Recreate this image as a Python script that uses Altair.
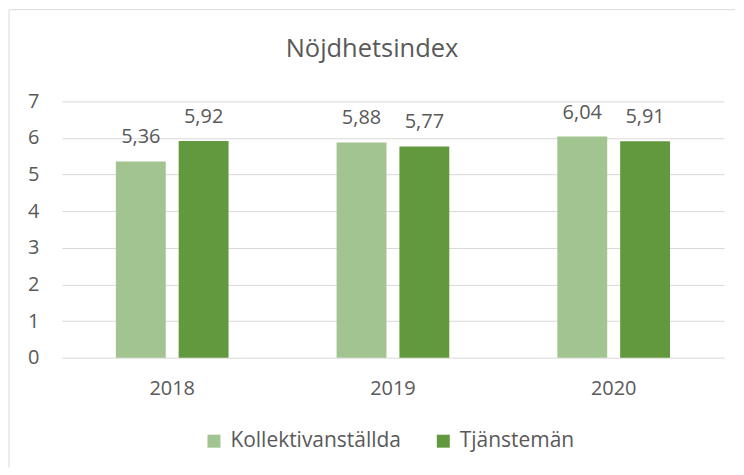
import altair as alt
import pandas as pd

years = ["2018", "2019", "2020"]
series = ["Kollektivanställda", "Tjänstemän"]
kollektiv = [5.36, 5.88, 6.04]
tjansteman = [5.92, 5.77, 5.91]
colors = ["#A1C490", "#62993E"]
title_text = "Nöjdhetsindex"

rows = []
for i, y in enumerate(years):
    for s, vals in zip(series, [kollektiv, tjansteman]):
        rows.append({"year": y, "series": s, "value": vals[i],
                     "label": f"{vals[i]:.2f}".replace(".", ",")})
df = pd.DataFrame(rows)

FONT = "Open Sans"
TXT = "#595959"
GRID = "#D9D9D9"

x_enc = alt.X("year:N", title=None, sort=years,
              scale=alt.Scale(paddingInner=0.4895, paddingOuter=0.2447),
              axis=alt.Axis(labelAngle=0, labelFontSize=20, labelColor=TXT, labelFont=FONT,
                            labelPadding=21, ticks=False, domain=False))
xo_enc = alt.XOffset("series:N", sort=series,
                     scale=alt.Scale(paddingInner=0.206, paddingOuter=0))
y_enc = alt.Y("value:Q", title=None,
              scale=alt.Scale(domain=[0, 7], nice=False),
              axis=alt.Axis(values=[0, 1, 2, 3, 4, 5, 6, 7], labelFontSize=20, labelColor=TXT,
                            labelFont=FONT, labelPadding=23, ticks=False, domain=False,
                            gridColor=GRID, gridWidth=1))

base = alt.Chart(df)

bars = base.mark_bar().encode(
    x=x_enc, xOffset=xo_enc, y=y_enc,
    color=alt.Color("series:N", sort=series,
                    scale=alt.Scale(domain=series, range=colors),
                    legend=alt.Legend(title=None, orient="none", direction="horizontal",
                                      legendX=142, legendY=330,
                                      symbolType="square", symbolSize=169,
                                      symbolStrokeWidth=0, labelFontSize=21,
                                      labelFont=FONT, labelColor=TXT, labelOffset=6,
                                      labelLimit=400, columnPadding=31)),
)

labels = base.mark_text(baseline="alphabetic", dy=-18, fontSize=20, font=FONT, color=TXT).encode(
    x=x_enc, xOffset=xo_enc, y=y_enc, text="label:N"
)

one = alt.Data(values=[{}])
title = alt.Chart(one).mark_text(text=title_text, fontSize=25.5, font=FONT, color=TXT,
                                 baseline="alphabetic", align="center").encode(
    x=alt.value(311), y=alt.value(-44))
border_top = alt.Chart(one).mark_rule(color=GRID, strokeWidth=1).encode(
    x=alt.value(-53), x2=alt.value(675), y=alt.value(-92))
border_left = alt.Chart(one).mark_rule(color=GRID, strokeWidth=1).encode(
    x=alt.value(-53), y=alt.value(-92), y2=alt.value(367))

chart = alt.layer(border_top, border_left, bars, labels, title).properties(
    width=664, height=257, padding=0, background="white"
).configure_view(stroke=None)

chart.save("out.html", embed_options={"renderer": "svg", "actions": False})
